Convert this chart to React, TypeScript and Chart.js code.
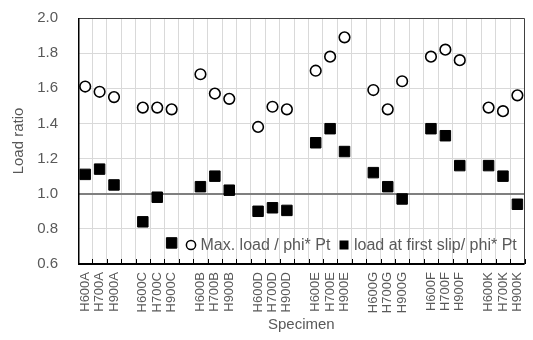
import { useEffect, useRef } from 'react';
import { Chart, registerables } from 'chart.js';
Chart.register(...registerables);

const categories = [
  'H600A', 'H700A', 'H900A', '',
  'H600C', 'H700C', 'H900C', '',
  'H600B', 'H700B', 'H900B', '',
  'H600D', 'H700D', 'H900D', '',
  'H600E', 'H700E', 'H900E', '',
  'H600G', 'H700G', 'H900G', '',
  'H600F', 'H700F', 'H900F', '',
  'H600K', 'H700K', 'H900K',
];

const maxLoad = [
  1.61, 1.58, 1.55, null,
  1.49, 1.49, 1.48, null,
  1.68, 1.57, 1.54, null,
  1.38, 1.495, 1.48, null,
  1.70, 1.78, 1.89, null,
  1.59, 1.48, 1.64, null,
  1.78, 1.82, 1.76, null,
  1.49, 1.47, 1.56,
];

const firstSlip = [
  1.11, 1.14, 1.05, null,
  0.84, 0.98, 0.72, null,
  1.04, 1.10, 1.02, null,
  0.90, 0.92, 0.905, null,
  1.29, 1.37, 1.24, null,
  1.12, 1.04, 0.97, null,
  1.37, 1.33, 1.16, null,
  1.16, 1.10, 0.94,
];

const seriesLabels = ['Max. load / phi* Pt', 'load at first slip/ phi* Pt'];
const yMin = 0.6;
const yMax = 2.0;
const yStep = 0.2;
const refValue = 1.0;

const FONT = "'Liberation Sans', Arial, sans-serif";
const GRAY_TEXT = '#595959';

function drawBox(chart: any) {
  const { ctx, chartArea: a, scales } = chart;
  const x = scales.x;
  ctx.save();
  const half = (x.getPixelForValue(1) - x.getPixelForValue(0)) / 2;
  // inside tick marks at category boundaries
  ctx.strokeStyle = '#000';
  ctx.lineWidth = 1;
  for (let i = 0; i <= categories.length; i++) {
    const px = Math.round(x.getPixelForValue(i) - half) + 0.5;
    ctx.beginPath();
    ctx.moveTo(px, a.bottom);
    ctx.lineTo(px, a.bottom - 5);
    ctx.stroke();
  }
  // top & right border
  ctx.strokeStyle = '#404040';
  ctx.lineWidth = 1;
  ctx.beginPath();
  ctx.moveTo(a.left, Math.round(a.top) + 0.5);
  ctx.lineTo(Math.round(a.right) - 0.5, Math.round(a.top) + 0.5);
  ctx.lineTo(Math.round(a.right) - 0.5, a.bottom);
  ctx.stroke();
  // left axis
  ctx.strokeStyle = '#000';
  ctx.lineWidth = 1.5;
  ctx.beginPath();
  ctx.moveTo(a.left + 0.75, a.top);
  ctx.lineTo(a.left + 0.75, a.bottom);
  ctx.stroke();
  // bottom axis
  ctx.lineWidth = 2;
  ctx.beginPath();
  ctx.moveTo(a.left, Math.round(a.bottom));
  ctx.lineTo(a.right, Math.round(a.bottom));
  ctx.stroke();
  ctx.restore();
}

function drawLegend(chart: any) {
  const { ctx } = chart;
  ctx.save();
  const cy = 245;
  ctx.font = `16px ${FONT}`;
  ctx.textBaseline = 'middle';
  ctx.textAlign = 'left';
  ctx.beginPath();
  ctx.arc(191, cy, 4.6, 0, Math.PI * 2);
  ctx.fillStyle = '#fff';
  ctx.fill();
  ctx.strokeStyle = '#000';
  ctx.lineWidth = 1.5;
  ctx.stroke();
  ctx.fillStyle = GRAY_TEXT;
  ctx.fillText(seriesLabels[0], 200.5, cy + 0.5);
  ctx.fillStyle = '#000';
  ctx.fillRect(339.5, cy - 4.5, 9, 9);
  ctx.fillStyle = GRAY_TEXT;
  ctx.fillText(seriesLabels[1], 354, cy + 0.5);
  ctx.restore();
}

const framePlugin = {
  id: 'plotFrame',
  beforeDatasetsDraw(chart: any) {
    drawBox(chart);
  },
  afterDraw(chart: any) {
    drawLegend(chart);
  },
};

export default function App() {
  const ref = useRef<HTMLCanvasElement | null>(null);
  useEffect(() => {
    if (!ref.current) return;
    const chart = new Chart(ref.current, {
      type: 'line',
      data: {
        labels: categories,
        datasets: [
          {
            label: seriesLabels[0],
            data: maxLoad,
            showLine: false,
            pointStyle: 'circle',
            pointRadius: 5.3,
            pointBorderWidth: 1.6,
            pointBackgroundColor: '#ffffff',
            pointBorderColor: '#000000',
          },
          {
            label: seriesLabels[1],
            data: firstSlip,
            showLine: false,
            pointStyle: 'rect',
            pointRadius: 7.4,
            pointBorderWidth: 1,
            pointBackgroundColor: '#000000',
            pointBorderColor: '#000000',
          },
        ],
      },
      options: {
        animation: false,
        responsive: true,
        maintainAspectRatio: false,
        layout: { padding: { top: 18, right: 4, left: 0, bottom: 0 } },
        plugins: {
          legend: { display: false },
          tooltip: { enabled: false },
        },
        scales: {
          x: {
            type: 'category',
            offset: true,
            grid: { display: true, offset: true, color: '#d9d9d9', lineWidth: 1, drawTicks: false },
            border: { display: false },
            ticks: {
              autoSkip: false,
              maxRotation: 90,
              minRotation: 90,
              padding: 8,
              color: GRAY_TEXT,
              font: { family: FONT, size: 13 },
            },
            title: {
              display: true,
              text: 'Specimen',
              color: GRAY_TEXT,
              font: { family: FONT, size: 15 },
              padding: { top: 0, bottom: 6 },
            },
            afterFit(scale: any) {
              scale.height = 76;
              scale.paddingLeft = 0;
              scale.paddingRight = 0;
            },
          },
          y: {
            min: yMin,
            max: yMax,
            grid: {
              color: (c: any) => (c.tick && Math.abs(c.tick.value - refValue) < 1e-6 ? '#7f7f7f' : '#d9d9d9'),
              lineWidth: (c: any) => (c.tick && Math.abs(c.tick.value - refValue) < 1e-6 ? 2 : 1),
              drawTicks: false,
            },
            border: { display: false },
            ticks: {
              stepSize: yStep,
              padding: 20,
              color: GRAY_TEXT,
              font: { family: FONT, size: 15 },
              callback: (v: any) => Number(v).toFixed(1),
            },
            title: {
              display: true,
              text: 'Load ratio',
              color: GRAY_TEXT,
              font: { family: FONT, size: 15 },
              padding: { top: 10, bottom: 0 },
            },
            afterFit(scale: any) {
              scale.width = 78;
              scale.paddingTop = 0;
              scale.paddingBottom = 0;
            },
          },
        },
      },
      plugins: [framePlugin],
    });
    return () => chart.destroy();
  }, []);
  return (
    <div style={{ position: 'fixed', left: 0, top: 0, width: 533, height: 340, background: '#fff' }}>
      <canvas ref={ref} />
    </div>
  );
}
